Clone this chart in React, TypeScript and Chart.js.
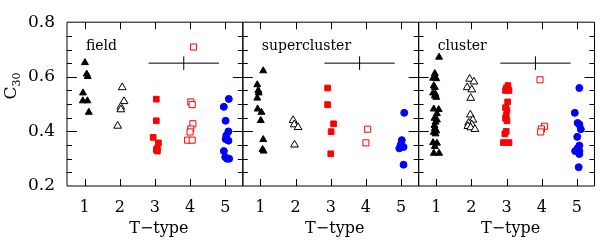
import React, { useEffect, useRef } from 'react';
import { Chart, registerables } from 'chart.js';
Chart.register(...registerables);

// ---- data ----
const panelNames = ['field', 'supercluster', 'cluster'];
const tTypeTicks = [1, 2, 3, 4, 5];
const c30Ticks = [0.2, 0.4, 0.6, 0.8];
const panelSpan = 5;
const tMin = 0.5;
const tMax = 5.5;
const c30Min = 0.2;
const c30Max = 0.8;

// [T-type (jittered), C30]
const fieldT1 = [[1.01, 0.652], [1.06, 0.61], [1.09, 0.601], [0.955, 0.541], [0.95, 0.512], [1.08, 0.512], [1.12, 0.47]];
const fieldT2 = [[2.07, 0.561], [2.12, 0.51], [2.03, 0.49], [2.03, 0.48], [1.94, 0.42]];
const fieldT3 = [[3.04, 0.518], [3.04, 0.439], [2.95, 0.378], [3.1, 0.358], [3.07, 0.339], [3.04, 0.333], [3.07, 0.328]];
const fieldT4 = [[4.1, 0.709], [4.02, 0.508], [4.06, 0.498], [4.08, 0.428], [4.02, 0.409], [4.0, 0.398], [3.93, 0.368], [4.06, 0.368]];
const fieldT5 = [[5.1, 0.519], [4.96, 0.49], [5.01, 0.439], [5.09, 0.4], [5.03, 0.385], [5.01, 0.372], [5.09, 0.366], [4.96, 0.328], [5.0, 0.306], [5.05, 0.3], [5.11, 0.3]];

const superT1 = [[1.08, 0.622], [0.91, 0.571], [0.94, 0.55], [0.95, 0.541], [0.91, 0.522], [0.92, 0.482], [1.03, 0.47], [1.01, 0.44], [1.08, 0.37], [1.06, 0.334], [1.09, 0.328]];
const superT2 = [[1.93, 0.441], [1.96, 0.425], [2.07, 0.415], [1.97, 0.351]];
const superT3 = [[2.91, 0.559], [2.91, 0.498], [3.08, 0.428], [3.01, 0.399], [3.0, 0.318]];
const superT4 = [[4.05, 0.408], [4.0, 0.358]];
const superT5 = [[5.09, 0.468], [5.02, 0.368], [4.99, 0.351], [5.07, 0.343], [4.95, 0.338], [5.07, 0.278]];

const clusterT1 = [[1.08, 0.672], [0.96, 0.612], [0.91, 0.595], [1.0, 0.593], [0.93, 0.567], [0.96, 0.561], [0.91, 0.541], [0.98, 0.536], [0.96, 0.53], [1.0, 0.525], [0.93, 0.482], [1.07, 0.48], [1.02, 0.465], [0.95, 0.448], [1.02, 0.442], [0.98, 0.434], [0.95, 0.422], [0.96, 0.411], [1.0, 0.402], [0.93, 0.397], [0.98, 0.391], [0.91, 0.359], [1.02, 0.357], [0.96, 0.345], [0.93, 0.32], [1.08, 0.32]];
const clusterT2 = [[1.95, 0.592], [2.07, 0.582], [1.88, 0.561], [2.01, 0.553], [1.98, 0.522], [1.97, 0.461], [2.04, 0.442], [1.92, 0.431], [2.01, 0.425], [1.9, 0.419], [1.98, 0.414], [2.1, 0.408]];
const clusterT3 = [[3.04, 0.568], [2.99, 0.559], [3.07, 0.55], [2.97, 0.55], [3.03, 0.508], [2.97, 0.487], [3.01, 0.478], [2.99, 0.459], [2.97, 0.448], [3.01, 0.439], [2.99, 0.4], [2.95, 0.391], [2.91, 0.359], [3.07, 0.359]];
const clusterT4 = [[3.95, 0.589], [4.08, 0.419], [3.99, 0.409], [3.97, 0.398]];
const clusterT5 = [[5.07, 0.559], [4.94, 0.468], [5.02, 0.431], [5.07, 0.425], [5.11, 0.408], [5.01, 0.38], [5.07, 0.348], [5.02, 0.338], [4.95, 0.328], [5.07, 0.328], [5.07, 0.317], [5.05, 0.269]];

// typical error bar (centre T, centre C30, half-width T, half-height C30)
const errCentre = [3.82, 0.65];
const errHalf = [1.0, 0.025];

const panelData = [
  [fieldT1, fieldT2, fieldT3, fieldT4, fieldT5],
  [superT1, superT2, superT3, superT4, superT5],
  [clusterT1, clusterT2, clusterT3, clusterT4, clusterT5],
];

// ---- styles ----
const FONT = "'DejaVu Serif', serif";
const RED = '#ff0000';
const BLUE = '#0000ff';
const typeStyles = [
  { pointStyle: 'triangle', pointRadius: 4, backgroundColor: '#000', borderColor: '#000', borderWidth: 1 },
  { pointStyle: 'triangle', pointRadius: 4.5, backgroundColor: '#fff', borderColor: '#000', borderWidth: 1 },
  { pointStyle: 'rect', pointRadius: 4, backgroundColor: RED, borderColor: RED, borderWidth: 1 },
  { pointStyle: 'rect', pointRadius: 4.3, backgroundColor: '#fff', borderColor: RED, borderWidth: 1 },
  { pointStyle: 'circle', pointRadius: 3.5, backgroundColor: BLUE, borderColor: BLUE, borderWidth: 1 },
];

const framePlugin = {
  id: 'frames',
  afterDraw(chart: any) {
    const { ctx, chartArea } = chart;
    const xs = chart.scales.x;
    const ys = chart.scales.y;
    const top = chartArea.top;
    const bottom = chartArea.bottom;
    ctx.save();
    ctx.strokeStyle = '#000';
    ctx.lineWidth = 1;
    ctx.fillStyle = '#000';
    panelNames.forEach((name, p) => {
      const off = p * panelSpan;
      const l = xs.getPixelForValue(tMin + off);
      const r = xs.getPixelForValue(tMax + off);
      ctx.beginPath();
      ctx.rect(l, top, r - l, bottom - top);
      ctx.stroke();
      ctx.beginPath();
      tTypeTicks.forEach((t) => {
        const px = Math.round(xs.getPixelForValue(t + off)) + 0.5;
        ctx.moveTo(px, top);
        ctx.lineTo(px, top + 7);
        ctx.moveTo(px, bottom);
        ctx.lineTo(px, bottom - 7);
      });
      for (let k = 1; k < 12; k++) {
        const v = c30Min + k * 0.05;
        const py = Math.round(ys.getPixelForValue(v)) + 0.5;
        const major = k % 4 === 0;
        const len = major ? 10 : 5;
        ctx.moveTo(l, py);
        ctx.lineTo(l + len, py);
        ctx.moveTo(r, py);
        ctx.lineTo(r - len, py);
      }
      ctx.stroke();
      // panel label
      ctx.font = `14px ${FONT}`;
      ctx.textAlign = 'left';
      ctx.textBaseline = 'alphabetic';
      ctx.fillText(name, l + 19, top + 28);
      // x title
      ctx.font = `16px ${FONT}`;
      ctx.textAlign = 'center';
      ctx.fillText('T\u2212type', (l + r) / 2 + 4, 233);
    });
    // y title C30
    ctx.translate(16, 86);
    ctx.rotate(-Math.PI / 2);
    ctx.textAlign = 'left';
    ctx.textBaseline = 'alphabetic';
    ctx.font = `17px ${FONT}`;
    const cw = ctx.measureText('C').width;
    ctx.font = `11px ${FONT}`;
    const sw = ctx.measureText('30').width;
    const start = -(cw + sw) / 2;
    ctx.font = `17px ${FONT}`;
    ctx.fillText('C', start, 0);
    ctx.font = `11px ${FONT}`;
    ctx.fillText('30', start + cw, 4);
    ctx.restore();
  },
};

export default function App() {
  const ref = useRef<HTMLCanvasElement>(null);
  useEffect(() => {
    if (!ref.current) return;
    const datasets: any[] = [];
    panelData.forEach((types, p) => {
      const off = p * panelSpan;
      types.forEach((pts, i) => {
        datasets.push({
          data: pts.map(([t, c]) => ({ x: t + off, y: c })),
          ...typeStyles[i],
          showLine: false,
        });
      });
      datasets.push({
        data: [
          { x: errCentre[0] - errHalf[0] + off, y: errCentre[1] },
          { x: errCentre[0] + errHalf[0] + off, y: errCentre[1] },
        ],
        showLine: true,
        pointRadius: 0,
        borderColor: '#000',
        borderWidth: 1,
      });
      datasets.push({
        data: [
          { x: errCentre[0] + off, y: errCentre[1] - errHalf[1] },
          { x: errCentre[0] + off, y: errCentre[1] + errHalf[1] },
        ],
        showLine: true,
        pointRadius: 0,
        borderColor: '#000',
        borderWidth: 1,
      });
    });
    const xTickValues = panelNames.flatMap((_, p) => tTypeTicks.map((t) => t + p * panelSpan));
    const chart = new Chart(ref.current, {
      type: 'scatter',
      data: { datasets },
      options: {
        animation: false,
        responsive: false,
        events: [],
        layout: { padding: { top: 10, right: 3.5, left: 0, bottom: 0 } },
        plugins: { legend: { display: false }, tooltip: { enabled: false } },
        scales: {
          x: {
            type: 'linear',
            min: tMin,
            max: tMax + (panelNames.length - 1) * panelSpan,
            grid: { display: false, drawTicks: false },
            border: { display: false },
            afterBuildTicks: (s: any) => {
              s.ticks = xTickValues.map((v) => ({ value: v }));
            },
            afterFit: (s: any) => {
              s.height = 54;
            },
            ticks: {
              color: '#000',
              font: { family: FONT, size: 16 },
              padding: 12,
              maxRotation: 0,
              autoSkip: false,
              callback: (v: any) => String(((Math.round(v) - 1) % panelSpan) + 1),
            },
          },
          y: {
            min: c30Min,
            max: c30Max,
            grid: { display: false, drawTicks: false },
            border: { display: false },
            afterBuildTicks: (s: any) => {
              s.ticks = c30Ticks.map((v) => ({ value: v }));
            },
            afterFit: (s: any) => {
              s.width = 67;
            },
            ticks: {
              color: '#000',
              font: { family: FONT, size: 17 },
              padding: 12,
              callback: (v: any) => Number(v).toFixed(1),
            },
          },
        },
      },
      plugins: [framePlugin],
    });
    return () => chart.destroy();
  }, []);
  return (
    <div style={{ position: 'absolute', left: 0, top: 0, width: 600, height: 240, background: '#fff' }}>
      <canvas ref={ref} width={600} height={240} style={{ width: 600, height: 240 }} />
    </div>
  );
}
